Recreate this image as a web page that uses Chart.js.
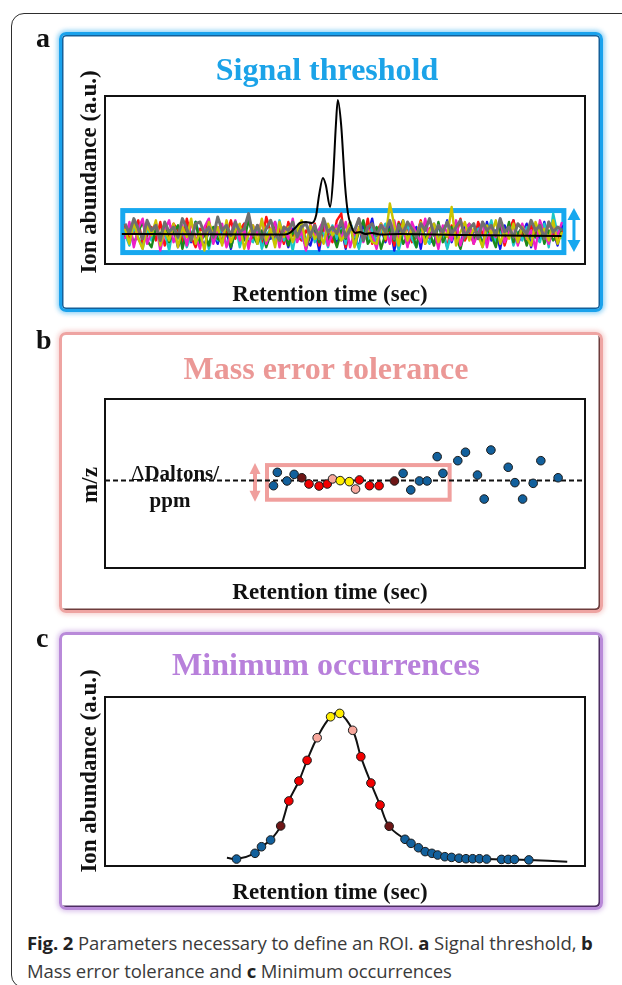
<!DOCTYPE html>
<html><head><meta charset="utf-8">
<script src="https://cdn.jsdelivr.net/npm/chart.js@4.4.0/dist/chart.umd.min.js"></script>
<style>
html,body{margin:0;padding:0;background:#fff;}
body{width:622px;height:985px;position:relative;overflow:hidden;font-family:"Liberation Serif","Times New Roman",serif;}
.outer{position:absolute;left:11px;top:13px;width:680px;height:975px;border:1.5px solid #2e2e2e;border-radius:13px;box-sizing:border-box;}
.frame{position:absolute;left:59px;width:544px;border-radius:7px;border:3px solid;box-sizing:border-box;}
.fa{top:32px;height:280px;border-color:#1aa2ec;box-shadow:0 0 4px 2px rgba(26,162,236,.45),inset 0 0 0 1.5px #14609a;}
.fb{top:332px;height:281px;border-color:#eea4a2;box-shadow:0 0 4px 2px rgba(238,164,162,.45),inset -1.5px -1.5px 0 #6e3c3c;}
.fc{top:632px;height:278px;border-color:#b98ad9;box-shadow:0 0 4px 2px rgba(185,138,217,.45),inset -1.5px -1.5px 0 #4d2d62;}
canvas{position:absolute;left:0;}
.t{position:absolute;font-weight:bold;white-space:nowrap;line-height:1;transform:translate(-50%,-50%);color:#111;}
.r{transform:translate(-50%,-50%) rotate(-90deg);}
.lab{position:absolute;left:36px;font-weight:bold;font-size:28px;line-height:1;color:#111;}
.cap{position:absolute;left:27px;top:929px;width:595px;font-family:"Open Sans",sans-serif;font-size:18.5px;line-height:28px;color:#3a3a3a;white-space:nowrap;letter-spacing:-0.1px;}
.cap b{color:#222;}
</style></head>
<body>
<div class="outer"></div>
<div class="frame fa"></div>
<div class="frame fb"></div>
<div class="frame fc"></div>
<canvas id="ca" width="622" height="320" style="top:0px"></canvas>
<canvas id="cb" width="622" height="300" style="top:320px"></canvas>
<canvas id="cc" width="622" height="300" style="top:620px"></canvas>

<div class="lab" style="top:24px">a</div>
<div class="lab" style="top:326px">b</div>
<div class="lab" style="top:624px">c</div>

<div class="t" style="left:327px;top:69px;font-size:32px;color:#1ba3e8">Signal threshold</div>
<div class="t" style="left:326px;top:368px;font-size:32px;color:#eb9896">Mass error tolerance</div>
<div class="t" style="left:326px;top:664px;font-size:32px;color:#b880db">Minimum occurrences</div>

<div class="t" style="left:330px;top:293px;font-size:23px">Retention time (sec)</div>
<div class="t" style="left:330px;top:591px;font-size:23px">Retention time (sec)</div>
<div class="t" style="left:330px;top:891px;font-size:23px">Retention time (sec)</div>

<div class="t r" style="left:88px;top:172px;font-size:23px">Ion abundance (a.u.)</div>
<div class="t r" style="left:89px;top:485px;font-size:23px">m/z</div>
<div class="t r" style="left:88px;top:771px;font-size:23px">Ion abundance (a.u.)</div>

<div class="t" style="left:175px;top:473px;font-size:21px"><span style="font-weight:normal">&#916;</span>Daltons/</div>
<div class="t" style="left:170px;top:500px;font-size:21px">ppm</div>

<div class="cap"><b>Fig. 2</b> Parameters necessary to define an ROI. <b>a</b> Signal threshold, <b>b</b><br>Mass error tolerance and <b>c</b> Minimum occurrences</div>

<script>
// ---------------- data ----------------
// Panel a: noise traces (relative abundance, 0-100 of plot height), 100 scans each
const noiseRed = [23,15,19,26,12,17,22,14,25,11, 18,24,20,13,27,16,10,21,19,25, 14,22,12,18,26,15,20,24,11,17, 23,13,28,19,15,21,12,25,17,17, 14,20,16,24,11,22,19,13,26,30, 10,23,17,21,15,27,12,19,24,14, 20,11,25,18,22,13,16,26,12,21, 24,15,19,10,23,17,27,14,20,12, 25,18,13,22,16,24,11,20,26,15, 19,12,23,17,21,14,25,18,13,20];
const noiseMagenta = [15,25,10,21,27,12,19,24,8,20, 26,13,18,23,11,25,16,9,22,27, 12,20,24,10,18,26,14,21,9,23, 17,26,12,19,25,10,22,15,27,13, 20,8,24,16,21,26,11,18,23,14, 25,10,19,27,13,21,17,9,24,20, 12,26,15,22,10,25,18,13,27,16, 21,9,23,19,14,26,11,20,24,12, 18,25,10,22,16,27,13,19,23,11, 24,15,20,9,26,18,12,22,17,25];
const noiseCyan = [18,11,22,16,9,21,14,24,12,19, 8,23,15,20,10,17,25,13,21,9, 19,14,22,11,18,24,10,20,15,13, 23,9,17,21,12,26,14,19,8,22, 16,11,24,13,20,18,10,23,15,21, 12,25,17,9,20,14,22,11,19,24, 13,21,8,18,23,15,10,22,16,12, 24,14,20,9,19,25,11,17,22,13, 21,10,18,26,12,20,15,23,11,19, 14,22,16,16,13,24,10,30,18,15];
const noiseGreen = [16,22,12,19,25,14,10,21,17,24, 13,19,23,9,20,16,25,12,18,11, 22,15,13,24,10,19,21,14,26,17, 12,20,10,18,23,15,22,11,19,16, 24,9,17,21,13,25,14,18,10,20, 15,23,11,19,26,12,16,22,9,18, 21,14,24,12,17,20,10,23,15,19, 11,25,13,18,22,16,9,20,24,14, 19,12,21,17,10,23,15,25,13,18, 22,11,19,16,24,12,20,14,17,21];
const noiseYellow = [21,12,25,15,9,23,17,26,11,20, 14,24,10,22,16,27,12,19,8,25, 17,22,11,26,13,20,24,9,18,23, 12,27,14,21,10,25,16,22,13,20, 26,11,23,15,19,12,24,17,21,14, 18,25,10,22,16,20,13,12,24,15, 36,23,11,26,14,21,17,25,12,20, 24,13,20,16,34,11,19,25,14,21, 17,10,23,18,26,12,20,15,24,13, 22,16,11,25,18,21,14,26,12,19];
const noiseBlue = [17,13,22,15,11,20,18,24,12,19, 14,21,10,17,23,13,25,16,11,20, 18,12,21,19,9,22,14,24,13,17, 20,11,18,15,25,12,19,10,21,16, 23,14,11,21,8,24,15,20,12,22, 9,25,16,10,23,17,27,11,21,13, 24,8,20,26,11,18,22,9,25,15, 12,23,17,26,13,21,10,24,16,19, 22,11,25,14,20,9,23,17,26,12, 18,24,10,21,15,25,13,20,11,23];
const noiseGray = [24,18,27,21,15,26,20,23,14,25, 19,22,16,27,21,14,24,25,18,22, 16,28,20,23,17,25,19,21,30,17, 23,15,21,26,18,14,22,20,25,16, 22,24,17,23,15,27,19,22,18,26, 16,21,20,27,14,22,24,17,23,19, 26,15,23,18,25,21,16,24,20,27, 17,23,19,25,18,22,26,16,21,24, 15,25,20,23,17,27,19,22,16,24, 21,18,26,20,23,15,25,19,22,20];
// Panel a: analyte chromatogram (retention time 0-100, abundance 0-100)
const peakTimes = [3.5,20,37.5,38.5,39.6,40.6,41.9,43.1,44.0,44.6,45.4,46.0,46.9,47.5,48.1,48.5,49.2,50.0,50.6,51.3,52.1,53.1,54.2,55.6,57.3,61.5,75,95.1];
const peakAbund = [17.9,17.7,17.6,18.5,21.4,24.4,25.0,24.4,29.2,41.0,51.2,47.0,33.9,50.0,82.7,97.6,82.7,47.0,30.4,22.6,18.5,19.0,17.9,18.5,17.6,17.9,17.2,16.7];
const thresholdTimes = [3.7, 95.6];
const thresholdBand = [6.8, 31.8];
const thresholdArrowTime = 97.7;

// Panel b: m/z deviation of successive scans
const mzCenter = 51.8;
const mzTimes = [35.1,35.9,37.9,39.4,41.0,42.5,44.6,46.3,47.4,49.0,50.9,52.2,53.0,55.1,57.1,60.3,62.1,63.7,65.5,67.1,70.4,69.2,73.5,75.1,77.6,79.0,80.4,84.0,85.4,87.0,89.2,90.8,94.4];
const mzDev = [48.7,56.6,51.5,55.4,53.4,49.7,48.5,49.7,52.7,51.7,51.1,46.7,52.1,48.7,48.7,51.5,56.0,46.2,51.5,51.5,56.0,65.9,63.5,68.5,55.0,40.8,69.8,59.6,50.5,40.8,50.1,63.5,53.4];
const mzClass = ['b','b','b','b','d','r','r','r','p','y','y','p','r','r','r','d','b','b','b','b','b','b','b','b','b','b','b','b','b','b','b','b','b'];
const tolTimes = [33.75, 71.8];
const tolBand = [40.4, 60.9];
const tolArrowTime = 31.25;

// Panel c: occurrences along the chromatographic peak
const occTimes = [27.4,31.25,32.6,34.5,36.6,38.3,40.4,42.1,44.2,47.0,48.9,51.6,53.3,55.4,57.3,59.2,62.5,63.75,65.3,66.7,68.1,69.3,70.8,72.2,73.75,75.2,76.6,78.0,79.5,82.6,84.0,85.3,88.3];
const occAbund = [4.1,7.5,11.4,15.4,23.7,38.5,50.3,62.5,75.9,88.3,90.3,80.3,64.7,49.1,36.1,23.5,15.8,13.4,10.8,8.5,7.5,6.5,5.5,5.1,4.6,4.3,4.3,4.3,4.1,3.9,3.9,3.9,3.6];
const occClass = ['b','b','b','b','d','r','r','r','p','y','y','p','r','r','r','d','b','b','b','b','b','b','b','b','b','b','b','b','b','b','b','b','b'];
const traceTimes = [25.4, 96.3];
const traceAbund = [4.9, 2.5];

// ---------------- styles ----------------
const dotColors = {b:'#12609c', r:'#f20000', d:'#6e1616', y:'#ffee00', p:'#f7a79c'};

function vArrow(ctx, x, yTop, yBot, color, headW, headH, shaftW){
  ctx.save();
  ctx.fillStyle = color; ctx.strokeStyle = color; ctx.lineWidth = shaftW;
  ctx.beginPath(); ctx.moveTo(x, yTop + headH - 1); ctx.lineTo(x, yBot - headH + 1); ctx.stroke();
  ctx.beginPath(); ctx.moveTo(x, yTop); ctx.lineTo(x - headW/2, yTop + headH); ctx.lineTo(x + headW/2, yTop + headH); ctx.closePath(); ctx.fill();
  ctx.beginPath(); ctx.moveTo(x, yBot); ctx.lineTo(x - headW/2, yBot - headH); ctx.lineTo(x + headW/2, yBot - headH); ctx.closePath(); ctx.fill();
  ctx.restore();
}

const boxPlugin = {
  id: 'plotBox',
  afterDatasetsDraw(chart){
    const {ctx, chartArea: a} = chart;
    ctx.save(); ctx.strokeStyle = '#111'; ctx.lineWidth = 2;
    ctx.strokeRect(a.left, a.top, a.right - a.left, a.bottom - a.top);
    ctx.restore();
  }
};

function bandPlugin(id, times, band, arrowTime, color, lw, head){
  return {
    id,
    beforeDatasetsDraw(chart){
      const {ctx, scales:{x, y}} = chart;
      const l = x.getPixelForValue(times[0]), r = x.getPixelForValue(times[1]);
      const t = y.getPixelForValue(band[1]), b = y.getPixelForValue(band[0]);
      ctx.save(); ctx.strokeStyle = color; ctx.lineWidth = lw;
      ctx.strokeRect(l, t, r - l, b - t); ctx.restore();
      vArrow(ctx, x.getPixelForValue(arrowTime), t - lw/2, b + lw/2 - (head.trim||0), color, head.w, head.h, head.s);
    }
  };
}

function baseOptions(padTop, padBottom, extraScales){
  return {
    responsive: false, animation: false, events: [],
    layout: {padding: {left: 105, right: 37, top: padTop, bottom: padBottom}},
    plugins: {legend: {display: false}, tooltip: {enabled: false}, title: {display: false}},
    scales: Object.assign({
      x: {type: 'linear', display: false, min: 0, max: 100},
      y: {type: 'linear', display: false, min: 0, max: 100}
    }, extraScales || {})
  };
}

// ---------------- panel a ----------------
const noiseIdx = noiseRed.map((_, i) => i);
function noiseSet(data, color, order, w){
  return {data, xAxisID: 'xn', borderColor: color, borderWidth: w || 2.4, pointRadius: 0, tension: 0, order, borderJoinStyle: 'round'};
}
new Chart(document.getElementById('ca'), {
  type: 'line',
  data: {
    labels: noiseIdx,
    datasets: [
      {data: peakTimes.map((t, i) => ({x: t, y: peakAbund[i]})), xAxisID: 'x', borderColor: '#000', borderWidth: 2, pointRadius: 0, cubicInterpolationMode: 'monotone', order: 0},
      noiseSet(noiseGray, '#6f6f6f', 1, 3),
      noiseSet(noiseYellow, '#c9c400', 2),
      noiseSet(noiseMagenta, '#ee1fc8', 3),
      noiseSet(noiseGreen, '#1b8a1b', 4),
      noiseSet(noiseCyan, '#1cc6c8', 5),
      noiseSet(noiseRed, '#ff1010', 6),
      noiseSet(noiseBlue, '#1515e6', 7)
    ]
  },
  options: baseOptions(96, 56, {xn: {type: 'linear', axis: 'x', display: false, min: -4.53, max: 104.21}}),
  plugins: [bandPlugin('bandA', thresholdTimes, thresholdBand, thresholdArrowTime, '#17a8ef', 5, {w: 13, h: 12, s: 3, trim: 3}), boxPlugin]
});

// ---------------- panel b ----------------
new Chart(document.getElementById('cb'), {
  type: 'scatter',
  data: {
    datasets: [
      {data: mzTimes.map((t, i) => ({x: t, y: mzDev[i]})), showLine: false, pointRadius: 4.3, pointBorderWidth: 1,
       pointBorderColor: '#1a1a1a', pointBackgroundColor: mzClass.map(c => dotColors[c]), order: 0},
      {data: [{x: 0, y: mzCenter}, {x: 100, y: mzCenter}], showLine: true, pointRadius: 0, borderColor: '#111', borderWidth: 2, borderDash: [5, 3], order: 1}
    ]
  },
  options: baseOptions(79, 52),
  plugins: [bandPlugin('bandB', tolTimes, tolBand, tolArrowTime, '#f09f9d', 4, {w: 11, h: 11, s: 4}), boxPlugin]
});

// ---------------- panel c ----------------
const tracePts = [{x: traceTimes[0], y: traceAbund[0]}]
  .concat(occTimes.map((t, i) => ({x: t, y: occAbund[i]})))
  .concat([{x: traceTimes[1], y: traceAbund[1]}]);
new Chart(document.getElementById('cc'), {
  type: 'scatter',
  data: {
    datasets: [
      {data: occTimes.map((t, i) => ({x: t, y: occAbund[i]})), showLine: false, pointRadius: 4.3, pointBorderWidth: 1,
       pointBorderColor: '#1a1a1a', pointBackgroundColor: occClass.map(c => dotColors[c]), order: 0},
      {data: tracePts, showLine: true, pointRadius: 0, borderColor: '#111', borderWidth: 2, tension: 0.4, order: 1}
    ]
  },
  options: baseOptions(77, 54),
  plugins: [boxPlugin]
});
</script>
</body></html>
